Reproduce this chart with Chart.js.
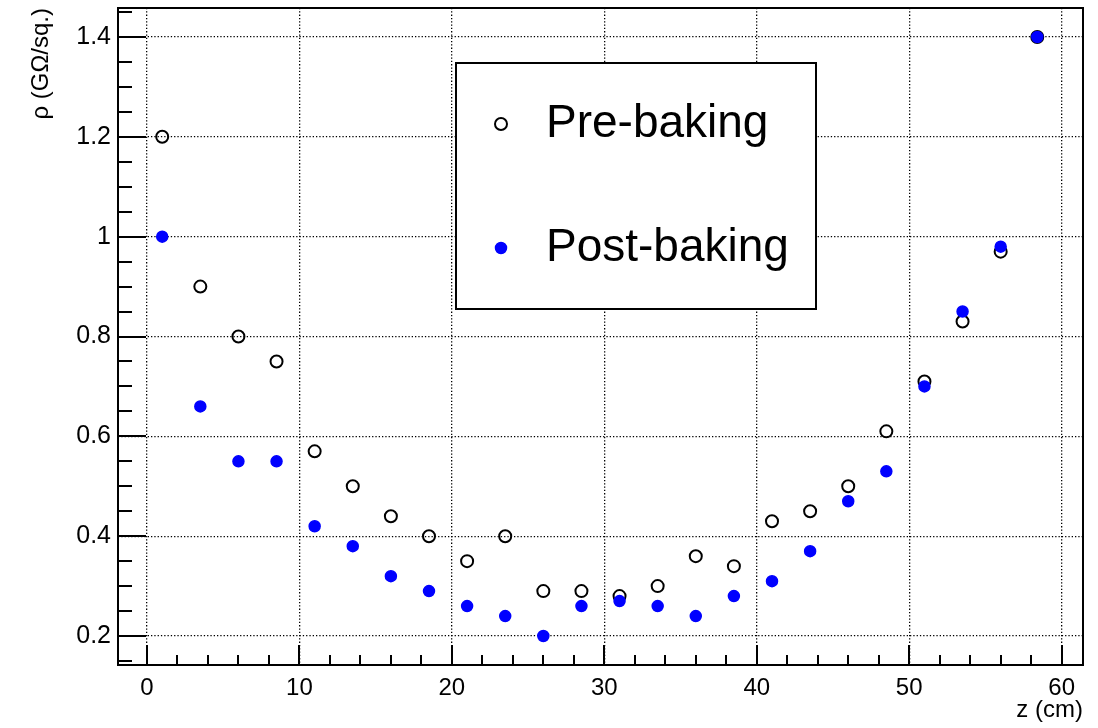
<!DOCTYPE html>
<html>
<head>
<meta charset="utf-8">
<script src="https://cdn.jsdelivr.net/npm/chart.js@4/dist/chart.umd.min.js"></script>
<style>
  html, body { margin: 0; padding: 0; background: #fff; }
  canvas { display: block; }
</style>
</head>
<body>
<canvas id="chart" width="1098" height="728"></canvas>
<script>
// positions along the sample (cm)
const zPositions = [1, 3.5, 6, 8.5, 11, 13.5, 16, 18.5, 21, 23.5, 26, 28.5, 31, 33.5, 36, 38.5, 41, 43.5, 46, 48.5, 51, 53.5, 56, 58.4];
const preBaking = [1.2, 0.9, 0.8, 0.75, 0.57, 0.5, 0.44, 0.4, 0.35, 0.4, 0.29, 0.29, 0.28, 0.3, 0.36, 0.34, 0.43, 0.45, 0.5, 0.61, 0.71, 0.83, 0.97, 1.4];
const postBaking = [1.0, 0.66, 0.55, 0.55, 0.42, 0.38, 0.32, 0.29, 0.26, 0.24, 0.2, 0.26, 0.27, 0.26, 0.24, 0.28, 0.31, 0.37, 0.47, 0.53, 0.7, 0.85, 0.98, 1.4];
const seriesLabels = ['Pre-baking', 'Post-baking'];

const xTickValues = [0, 10, 20, 30, 40, 50, 60];
const yTickValues = [0.2, 0.4, 0.6, 0.8, 1, 1.2, 1.4];
const yTickLabels = ['0.2', '0.4', '0.6', '0.8', '1', '1.2', '1.4'];

const FONT = '"Liberation Sans", Arial, Helvetica, sans-serif';
Chart.defaults.font.family = FONT;
Chart.defaults.color = '#000';

function toPoints(xs, ys) {
    return xs.map((x, i) => ({ x: x, y: ys[i] }));
}

// ROOT-like frame: box, inward major/minor ticks, legend box
const rootFrame = {
    id: 'rootFrame',
    afterDraw(chart) {
        const ctx = chart.ctx;
        const a = chart.chartArea;
        const xs = chart.scales.x;
        const ys = chart.scales.y;
        ctx.save();
        ctx.strokeStyle = '#000';
        ctx.lineWidth = 2;

        // x ticks
        ctx.beginPath();
        for (let i = Math.ceil(xs.min / 2); i * 2 <= xs.max; i++) {
            const v = i * 2;
            const px = Math.round(xs.getPixelForValue(v));
            const len = v % 10 === 0 ? 20 : 10;
            ctx.moveTo(px, a.bottom);
            ctx.lineTo(px, a.bottom - len);
        }
        // y ticks
        for (let i = Math.ceil(ys.min / 0.05 - 1e-6); i * 0.05 <= ys.max + 1e-6; i++) {
            const py = Math.round(ys.getPixelForValue(i * 0.05));
            const len = i % 4 === 0 ? 28 : 14;
            ctx.moveTo(a.left, py);
            ctx.lineTo(a.left + len, py);
        }
        ctx.stroke();

        ctx.strokeRect(a.left, a.top, a.right - a.left, a.bottom - a.top);

        // legend
        const box = { x: 456, y: 63, w: 360, h: 246 };
        ctx.fillStyle = '#fff';
        ctx.fillRect(box.x, box.y, box.w, box.h);
        ctx.strokeRect(box.x, box.y, box.w, box.h);
        const rows = [124, 248];
        chart.data.datasets.forEach((ds, i) => {
            const cx = 501, cy = rows[i];
            ctx.beginPath();
            ctx.arc(cx, cy, ds.pointRadius, 0, Math.PI * 2);
            if (ds.pointBackgroundColor !== 'rgba(0,0,0,0)') {
                ctx.fillStyle = ds.pointBackgroundColor;
                ctx.fill();
            }
            ctx.lineWidth = ds.pointBorderWidth;
            ctx.strokeStyle = ds.pointBorderColor;
            ctx.stroke();
            ctx.fillStyle = '#000';
            ctx.font = '46px ' + FONT;
            ctx.textAlign = 'left';
            ctx.textBaseline = 'alphabetic';
            ctx.fillText(ds.label, 546, cy + 13);
        });
        ctx.restore();
    }
};

new Chart(document.getElementById('chart'), {
    type: 'scatter',
    data: {
        datasets: [
            {
                label: seriesLabels[0],
                data: toPoints(zPositions, preBaking),
                pointRadius: 6,
                pointBorderWidth: 2,
                pointBorderColor: '#000',
                pointBackgroundColor: 'rgba(0,0,0,0)',
                order: 1
            },
            {
                label: seriesLabels[1],
                data: toPoints(zPositions, postBaking),
                pointRadius: 5.5,
                pointBorderWidth: 1.5,
                pointBorderColor: '#0000ff',
                pointBackgroundColor: '#0000ff',
                order: 0
            }
        ]
    },
    options: {
        responsive: false,
        animation: false,
        layout: { padding: { top: 8, right: 15, left: 0, bottom: 0 } },
        plugins: {
            legend: { display: false },
            tooltip: { enabled: false }
        },
        scales: {
            x: {
                type: 'linear',
                min: -1.9,
                max: 61.4,
                afterBuildTicks: s => { s.ticks = xTickValues.map(v => ({ value: v })); },
                afterFit: s => { s.height = 63; s.paddingLeft = 0; s.paddingRight = 0; },
                grid: { color: '#000', lineWidth: 1.3, drawTicks: false },
                border: { display: false, dash: [1.3, 2] },
                ticks: { padding: 9, font: { size: 24 }, maxRotation: 0, callback: v => String(v) },
                title: { display: true, text: 'z (cm)', align: 'end', font: { size: 24 }, padding: { top: 0, bottom: 3 } }
            },
            y: {
                type: 'linear',
                min: 0.142,
                max: 1.458,
                afterBuildTicks: s => { s.ticks = yTickValues.map(v => ({ value: v })); },
                afterFit: s => { s.width = 118; s.paddingTop = 0; s.paddingBottom = 0; },
                grid: { color: '#000', lineWidth: 1.3, drawTicks: false },
                border: { display: false, dash: [1.3, 2] },
                ticks: {
                    padding: 7,
                    font: { size: 25 },
                    callback: v => yTickLabels[yTickValues.indexOf(v)]
                },
                title: { display: true, text: 'ρ (GΩ/sq.)', align: 'end', font: { size: 24 }, padding: { top: 27, bottom: 0 } }
            }
        }
    },
    plugins: [rootFrame]
});
</script>
</body>
</html>
